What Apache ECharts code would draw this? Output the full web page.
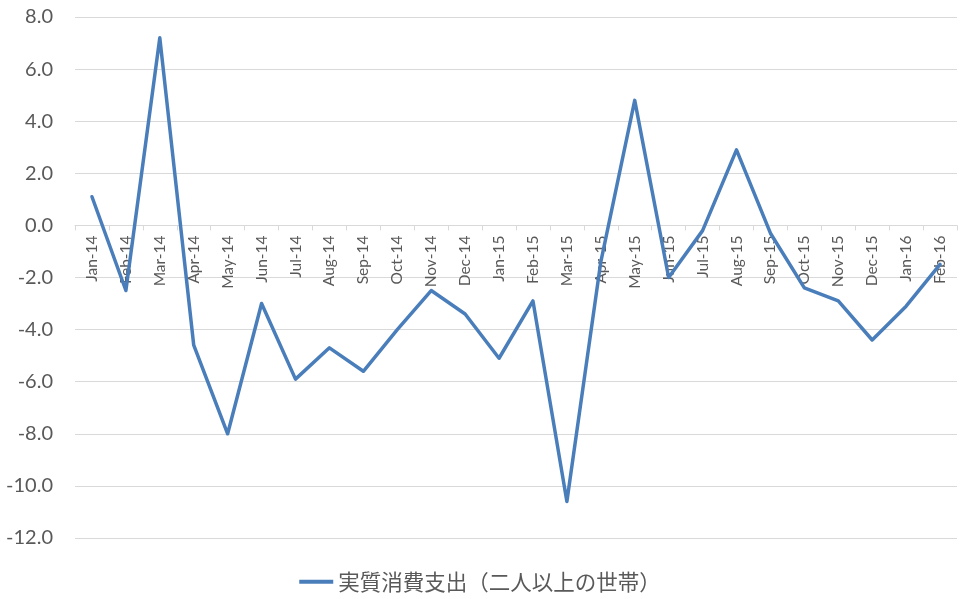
<!DOCTYPE html>
<html><head><meta charset="utf-8">
<script src="https://cdn.jsdelivr.net/npm/echarts@6/dist/echarts.min.js"></script>
<style>html,body{margin:0;padding:0;background:#fff}#c{width:960px;height:599px}</style>
</head><body><div id="c"></div>
<script>
const categories = ["Jan-14","Feb-14","Mar-14","Apr-14","May-14","Jun-14","Jul-14","Aug-14","Sep-14","Oct-14","Nov-14","Dec-14","Jan-15","Feb-15","Mar-15","Apr-15","May-15","Jun-15","Jul-15","Aug-15","Sep-15","Oct-15","Nov-15","Dec-15","Jan-16","Feb-16"];
const seriesName = "実質消費支出（二人以上の世帯）";
const values = [1.1,-2.5,7.2,-4.6,-8.0,-3.0,-5.9,-4.7,-5.6,-4.0,-2.5,-3.4,-5.1,-2.9,-10.6,-1.4,4.8,-2.0,-0.2,2.9,-0.3,-2.4,-2.9,-4.4,-3.1,-1.5];
const yMin = -12, yMax = 8, yStep = 2;

const W = 960, H = 599, gTop = 17, gBottom = 61;
const plotH = H - gTop - gBottom;
const zeroOffset = -plotH * (0 - yMin) / (yMax - yMin);

const chart = echarts.init(document.getElementById('c'), null, {renderer:'canvas'});
chart.setOption({
  animation:false,
  backgroundColor:'#ffffff',
  grid:{left:75,right:3,top:gTop,bottom:gBottom,containLabel:false},
  legend:{
    data:[{name:seriesName, icon:'rect'}],
    top:566, left:'center',
    itemWidth:34, itemHeight:4, itemGap:3,
    textStyle:{fontFamily:'Noto Sans CJK JP', fontSize:21.5, color:'#595959'}
  },
  xAxis:{
    type:'category', data:categories, boundaryGap:true, position:'bottom', offset:zeroOffset,
    axisLine:{show:true, onZero:false, lineStyle:{color:'#d9d9d9', width:1}},
    axisTick:{show:true, inside:false, length:5, alignWithLabel:false, lineStyle:{color:'#d9d9d9'}},
    axisLabel:{interval:0, rotate:90, margin:10, fontFamily:'Lato', fontSize:15.5, color:'#595959'},
    splitLine:{show:false}
  },
  yAxis:{
    type:'value', min:yMin, max:yMax, interval:yStep,
    axisLine:{show:false}, axisTick:{show:false},
    axisLabel:{margin:22, fontFamily:'Lato', fontSize:20, color:'#595959', formatter:v=>v.toFixed(1)},
    splitLine:{lineStyle:{color:'#d9d9d9', width:1}}
  },
  series:[{
    name:seriesName, type:'line', data:values,
    showSymbol:false, symbol:'none',
    lineStyle:{color:'#4a7ebb', width:3.5, cap:'round', join:'round'},
    itemStyle:{color:'#4a7ebb'}
  }]
});
</script></body></html>
